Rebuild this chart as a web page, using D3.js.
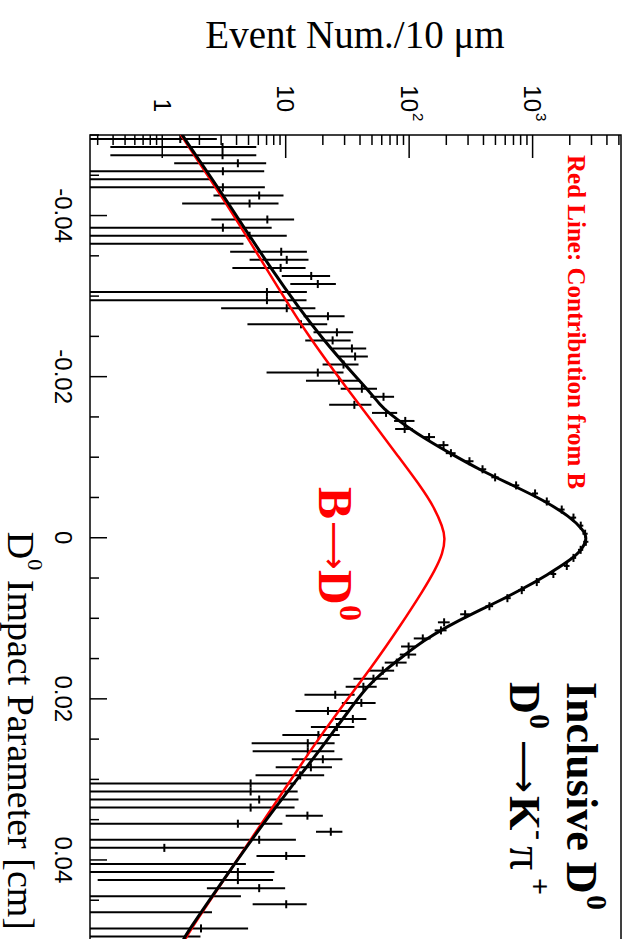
<!DOCTYPE html>
<html><head><meta charset="utf-8">
<script src="https://cdn.jsdelivr.net/npm/d3@7"></script>
<style>html,body{margin:0;padding:0;background:#fff}</style>
</head><body>
<svg id="c" width="629" height="939"></svg>
<script>
// ---------- DATA ----------
const binCenters = [-0.0495,-0.0485,-0.0475,-0.0465,-0.0455,-0.0445,-0.0435,-0.0425,-0.0415,-0.0405,
  -0.0395,-0.0385,-0.0375,-0.0365,-0.0355,-0.0345,-0.0335,-0.0325,-0.0315,-0.0305,
  -0.0295,-0.0285,-0.0275,-0.0265,-0.0255,-0.0245,-0.0235,-0.0225,-0.0215,-0.0205,
  -0.0195,-0.0185,-0.0175,-0.0165,-0.0155,-0.0145,-0.0135,-0.0125,-0.0115,-0.0105,
  -0.0095,-0.0085,-0.0075,-0.0065,-0.0055,-0.0045,-0.0035,-0.0025,-0.0015,-0.0005,
  0.0005,0.0015,0.0025,0.0035,0.0045,0.0055,0.0065,0.0075,0.0085,0.0095,
  0.0105,0.0115,0.0125,0.0135,0.0145,0.0155,0.0165,0.0175,0.0185,0.0195,
  0.0205,0.0215,0.0225,0.0235,0.0245,0.0255,0.0265,0.0275,0.0285,0.0295,
  0.0305,0.0315,0.0325,0.0335,0.0345,0.0355,0.0365,0.0375,0.0385,0.0395,
  0.0405,0.0415,0.0425,0.0435,0.0445,0.0455,0.0465,0.0475,0.0485,0.0495];
const binHalfWidth = 0.0005;
const counts = [1.4,3.08,3.08,4.1,3.1,0,3.1,6.1,5.1,null,
  7.1,3.1,5.1,0,9.2,10.2,9.1,16.1,18.2,7.05,
  7.05,10.2,22,13.3,26,24,34.4,36.5,29.4,18.2,
  27,41.4,62,36,65,93,92,145,190,218,
  308,393,497,735,1047,1303,1722,2143,2455,2663,
  2700,2450,2143,1892,1473,1081,817,625,447,284,
  192,181,129,99,99,79.4,61.2,51.4,42.6,25.2,
  41,22,35,26,18.4,15.1,15.1,20,16,13.1,
  5.2,5.2,6.1,5.2,15,4.1,23.2,6.1,1.04,10.1,
  0,4.1,4.1,6.1,0,10.1,0,null,2.06,0];
const errors = [1.37,2.7,2.7,2.85,3.6,2.45,3.68,3.5,3.65,null,
  4.6,4.6,5.1,4.55,5.65,5.1,5.4,6.8,7.3,7.8,
  7.7,7.2,8,8.4,9.2,9.6,10.5,9.8,9.5,11.2,
  12.4,13.5,13.5,13.5,15,17.5,15,17,18,20,
  24,28,34,45,60,75,95,110,120,130,
  130,120,110,100,80,62,50,40,32,25,
  21,20,20,13,15,16,14.4,16,12,11,
  12.5,10,10,10,9,9.8,9.7,8.8,7.7,7.4,
  6.8,7.3,6.6,6.6,5,5.3,5.6,6,3.8,4.3,
  4.76,4,3.8,3.8,4.34,4.7,2.53,null,2.9,2.04];

// total fit (black)
const totalX = [-0.0505,-0.05,-0.04255,-0.03344,-0.02434,-0.01834,-0.01648,-0.01545,-0.01379,-0.01214,
  -0.01048,-0.00841,-0.00655,-0.00469,-0.00261,-0.00096,0.00003,0.00152,0.00276,0.00463,
  0.0064,0.00835,0.00938,0.01104,0.0127,0.01477,0.01683,0.01849,0.02138,0.02635,
  0.0309,0.03545,0.04125,0.0493,0.0505];
const totalY = [1.40,1.44,3.13,7.49,20.2,46.8,58.2,68.8,95.8,140,
  215,376,682,1216,2014,2570,2780,2512,2032,1309,
  822,460,330,203,133,88,59.3,45.7,32.7,19.0,
  11.1,6.61,3.55,1.54,1.42];
// contribution from B (red)
const fromBX = [-0.0505,-0.05,-0.04255,-0.03348,-0.02517,-0.01834,-0.01421,-0.01006,-0.0063,-0.00382,
  -0.00133,0.00003,0.00194,0.004,0.00649,0.01104,0.01601,0.02138,0.02635,0.03256,
  0.0367,0.0429,0.04932,0.0505];
const fromBY = [1.37,1.41,3.00,6.95,14.9,32.1,51.4,81.9,125,159,
  187,196,187.5,162,130.6,83.8,50.1,27.1,15.9,8.61,
  5.61,3.03,1.58,1.47];

const xDomain = [-0.05, 0.05];
const yDomain = [0.26, 5200];
const xTicks = [-0.04,-0.02,0,0.02,0.04];
const xTickLabels = ["-0.04","-0.02","0","0.02","0.04"];
const xMinorStep = 0.005;
const yMajorTicks = [1,10,100,1000];
const yTickBase = ["1","10","10","10"];
const yTickExp = ["","","2","3"];

// ---------- LAYOUT ----------
const frame = {left:90, right:621, top:135, bottom:940.5};
const svg = d3.select("#c");
const imp = d3.scaleLinear().domain(xDomain).range([frame.top, frame.bottom]);
const cnt = d3.scaleLog().domain(yDomain).range([frame.left, frame.right]);
const SANS = "'Liberation Sans', Arial, Helvetica, sans-serif";
const SERIF = "'Liberation Serif', 'Times New Roman', serif";
const SYM = "'DejaVu Sans', sans-serif";

svg.append("defs").append("clipPath").attr("id","clip")
  .append("rect").attr("x",frame.left).attr("y",frame.top)
  .attr("width",frame.right-frame.left).attr("height",frame.bottom-frame.top);

// frame
svg.append("rect").attr("x",frame.left).attr("y",frame.top)
  .attr("width",frame.right-frame.left).attr("height",frame.bottom-frame.top)
  .attr("fill","none").attr("stroke","#000").attr("stroke-width",1.5);

// x-axis (impact parameter) ticks on left frame
const xMinor = d3.range(xDomain[0], xDomain[1]+1e-9, xMinorStep);
const axG = svg.append("g").attr("stroke","#000").attr("stroke-width",1.5);
xMinor.forEach(v=>{
  const major = xTicks.some(t=>Math.abs(t-v)<1e-9);
  axG.append("line").attr("x1",frame.left).attr("x2",frame.left+(major?17:9))
    .attr("y1",imp(v)).attr("y2",imp(v));
});
xTicks.forEach((t,i)=>{
  svg.append("text").attr("transform",`translate(55,${imp(t)}) rotate(90)`)
    .attr("text-anchor","middle").attr("font-family",SANS).attr("font-size",24)
    .text(xTickLabels[i]);
});

// y-axis (log counts) ticks on top frame
cnt.ticks().forEach(v=>{
  const major = yMajorTicks.some(t=>Math.abs(t-v)/t<1e-6);
  axG.append("line").attr("x1",cnt(v)).attr("x2",cnt(v))
    .attr("y1",frame.top).attr("y2",frame.top+(major?23:10));
});
yMajorTicks.forEach((t,i)=>{
  const tx = svg.append("text").attr("transform",`translate(${cnt(t)},112) rotate(90)`)
    .attr("font-family",SANS).attr("font-size",24);
  if(yTickExp[i]){
    tx.attr("text-anchor","start").attr("x",-26.7);
    tx.append("tspan").attr("dy","0.35em").text(yTickBase[i]);
    tx.append("tspan").attr("font-size",15).attr("dy",-12).attr("dx",1).text(yTickExp[i]);
  } else {
    tx.attr("text-anchor","end").attr("dy","0.35em").text(yTickBase[i]);
  }
});

// axis titles
svg.append("text").attr("x",355).attr("y",48).attr("text-anchor","middle")
  .attr("font-family",SERIF).attr("font-size",39).text("Event Num./10 \u03bcm");
const xt = svg.append("text").attr("transform","translate(8,930) rotate(90)")
  .attr("text-anchor","end").attr("font-family",SERIF).attr("font-size",38);
xt.append("tspan").text("D");
xt.append("tspan").attr("font-size",22).attr("dy",-20).text("0");
xt.append("tspan").attr("dy",20).text(" Impact Parameter [cm]");

// ---------- DATA POINTS ----------
const plot = svg.append("g").attr("clip-path","url(#clip)");
const pts = binCenters.map((c,i)=>({c, v:counts[i], e:errors[i]})).filter(d=>d.v!==null);
const dg = plot.append("g").attr("stroke","#000").attr("stroke-width",2);
pts.forEach(d=>{
  const lo = Math.max(d.v-d.e, yDomain[0]);
  const hi = d.v+d.e;
  if(hi > yDomain[0]){
    dg.append("line").attr("x1",cnt(lo)).attr("x2",cnt(hi))
      .attr("y1",imp(d.c)).attr("y2",imp(d.c));
  }
  if(d.v > yDomain[0]){
    dg.append("line").attr("x1",cnt(d.v)).attr("x2",cnt(d.v))
      .attr("y1",imp(d.c-binHalfWidth)).attr("y2",imp(d.c+binHalfWidth));
  }
});

// ---------- CURVES ----------
const line = d3.line().x(d=>cnt(d[1])).y(d=>imp(d[0])).curve(d3.curveBasis);
plot.append("path").attr("d",line(fromBX.map((x,i)=>[x,fromBY[i]])))
  .attr("fill","none").attr("stroke","#ff0000").attr("stroke-width",2.5);
plot.append("path").attr("d",line(totalX.map((x,i)=>[x,totalY[i]])))
  .attr("fill","none").attr("stroke","#000").attr("stroke-width",3);

// ---------- ANNOTATIONS ----------
function rtext(x, y, str, size, color, opts={}){
  return svg.append("text").attr("transform",`translate(${x},${y}) rotate(90)`)
    .attr("font-family",opts.family||SERIF).attr("font-weight",opts.weight||"bold")
    .attr("font-size",size).attr("fill",color).text(str);
}
rtext(568,155,"Red Line: Contribution from B",25,"#ff0000");

// B -> D0
rtext(319,487,"B",48,"#ff0000");
rtext(323,521,"\u27f6",34,"#ff0000",{family:SYM,weight:"normal"});
rtext(319,570,"D",48,"#ff0000");
rtext(340,605,"0",32,"#ff0000");

// Inclusive D0
rtext(567,682,"Inclusive D",44,"#000");
rtext(587,895,"0",30,"#000");
// D0 -> K- pi+
rtext(510,682,"D",44,"#000");
rtext(530,714,"0",30,"#000");
rtext(512,740,"\u27f6",37,"#000",{family:SYM,weight:"normal"});
rtext(510,796,"K",44,"#000");
rtext(530,830,"-",30,"#000");
rtext(510,846,"\u03c0",48,"#000",{weight:"normal"});
rtext(530,878,"+",30,"#000");
</script>
</body></html>
